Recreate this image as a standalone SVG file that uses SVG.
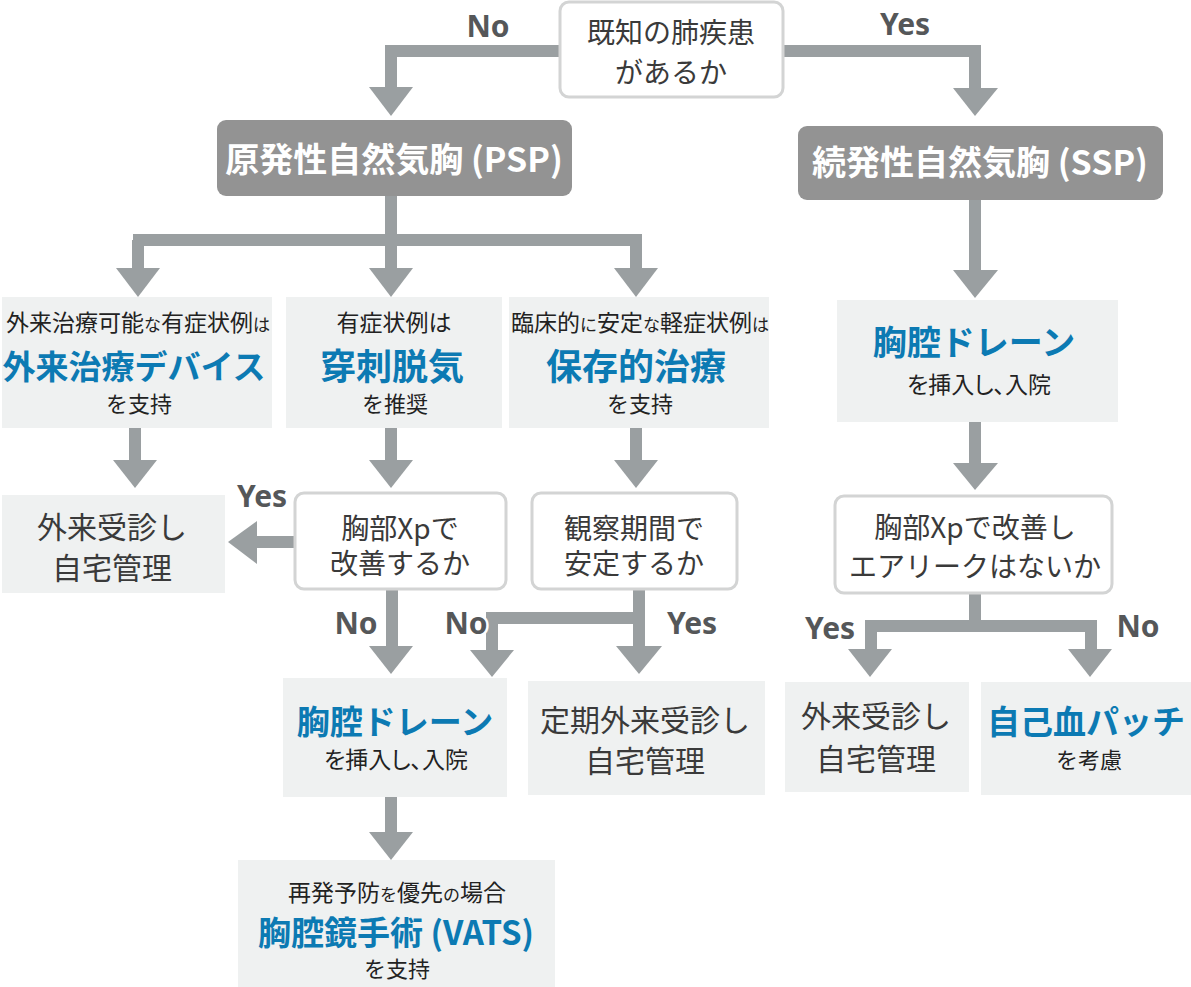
<svg xmlns="http://www.w3.org/2000/svg" width="1191" height="987" viewBox="0 0 1191 987">
<style>
.bg{fill:#ffffff}
.box{fill:#eff1f1}
.dec{fill:#ffffff;stroke:#d3d4d4;stroke-width:3}
.main{fill:#939393}
.ln{fill:none;stroke:#9a9fa1;stroke-width:12;stroke-linejoin:miter;stroke-linecap:butt}
.ah{fill:#9a9fa1}
text{font-family:"Noto Sans CJK JP","Noto Sans",sans-serif;text-anchor:middle}
.mt{fill:#ffffff;font-size:34px;font-weight:700}
.sm{fill:#222;font-size:23px}
.s2{fill:#222;font-size:22px}
.s3{fill:#222;font-size:23px;font-feature-settings:"palt"}
.kn{font-size:17px}
.bl{fill:#0c7ab3;font-size:33px;font-weight:700}
.bx{font-size:36px}
.dt{fill:#3a3a3a;font-size:28px}
.rt{fill:#3a3a3a;font-size:30px}
.lb{fill:#555759;font-size:30px;font-weight:700;font-family:"Noto Sans","Noto Sans CJK JP",sans-serif}
.halo{stroke:#ffffff;stroke-width:5;paint-order:stroke;stroke-linejoin:round}
</style>
<rect class="bg" x="0" y="0" width="1191" height="987"/>

<g id="connectors">
  <path class="ln" d="M560 51 H391 V90"/>
  <polygon class="ah" points="369,87 413,87 391,116"/>
  <path class="ln" d="M783 51 H975 V90"/>
  <polygon class="ah" points="953,88 998,88 975,116"/>
  <path class="ln" d="M391 196 V270 M133 240 H642 M138 240 V270 M636 240 V270"/>
  <polygon class="ah" points="116,268 160,268 138,297"/>
  <polygon class="ah" points="369,268 413,268 391,297"/>
  <polygon class="ah" points="614,268 658,268 636,297"/>
  <path class="ln" d="M975 200 V272"/>
  <polygon class="ah" points="953,270 998,270 975,298"/>
  <path class="ln" d="M135 428 V462"/>
  <polygon class="ah" points="113,460 157,460 135,488"/>
  <path class="ln" d="M391 428 V462"/>
  <polygon class="ah" points="369,460 413,460 391,488"/>
  <path class="ln" d="M636 428 V462"/>
  <polygon class="ah" points="614,460 658,460 636,488"/>
  <path class="ln" d="M295 542 H255"/>
  <polygon class="ah" points="257,521 257,564 228,542"/>
  <path class="ln" d="M392 589 V648"/>
  <polygon class="ah" points="369,646 413,646 391,674"/>
  <path class="ln" d="M639 589 V648 M645 618 H492 V652"/>
  <polygon class="ah" points="616,646 662,646 639,674"/>
  <polygon class="ah" points="470,650 514,650 492,677"/>
  <path class="ln" d="M975 422 V465"/>
  <polygon class="ah" points="953,463 998,463 975,490"/>
  <path class="ln" d="M975 593 V626 M865 626 H1097 M871 626 V651 M1091 626 V651"/>
  <polygon class="ah" points="848,649 892,649 870,677"/>
  <polygon class="ah" points="1068,649 1112,649 1090,677"/>
  <path class="ln" d="M391 797 V834"/>
  <polygon class="ah" points="369,832 413,832 391,860"/>
  <text class="lb" x="488" y="37">No</text>
  <text class="lb" x="905" y="35">Yes</text>
  <text class="lb" x="262" y="507">Yes</text>
  <text class="lb" x="356" y="634">No</text>
  <text class="lb halo" x="466" y="634">No</text>
  <text class="lb" x="692" y="634">Yes</text>
  <text class="lb" x="830" y="639">Yes</text>
  <text class="lb" x="1138" y="637">No</text>
</g>

<g id="n-known">
  <rect class="dec" x="560" y="2" width="223" height="95" rx="9"/>
  <text class="dt" x="671" y="43">既知の肺疾患</text>
  <text class="dt" x="671" y="83">があるか</text>
</g>
<g id="n-psp">
  <rect class="main" x="217" y="120" width="355" height="76" rx="9"/>
  <text class="mt" x="394" y="172">原発性自然気胸 (PSP)</text>
</g>
<g id="n-ssp">
  <rect class="main" x="798" y="126" width="365" height="74" rx="9"/>
  <text class="mt" x="980" y="175">続発性自然気胸 (SSP)</text>
</g>
<g id="n-device">
  <rect class="box" x="2" y="297" width="270" height="131"/>
  <text class="sm" x="138" y="331">外来治療可能<tspan class="kn">な</tspan>有症状例<tspan class="kn">は</tspan></text>
  <text class="bl" x="134" y="379">外来治療デバイス</text>
  <text class="s2" x="139" y="412">を支持</text>
</g>
<g id="n-aspiration">
  <rect class="box" x="286" y="297" width="216" height="131"/>
  <text class="sm" x="394" y="331">有症状例は</text>
  <text class="bl bx" x="392" y="380">穿刺脱気</text>
  <text class="s2" x="395" y="412">を推奨</text>
</g>
<g id="n-conservative">
  <rect class="box" x="509" y="297" width="260" height="131"/>
  <text class="sm" x="640" y="331">臨床的<tspan class="kn">に</tspan>安定<tspan class="kn">な</tspan>軽症状例<tspan class="kn">は</tspan></text>
  <text class="bl bx" x="636" y="380">保存的治療</text>
  <text class="s2" x="640" y="412">を支持</text>
</g>
<g id="n-home1">
  <rect class="box" x="2" y="495" width="223" height="98"/>
  <text class="rt" x="112" y="538">外来受診し</text>
  <text class="rt" x="112" y="579">自宅管理</text>
</g>
<g id="n-xp1">
  <rect class="dec" x="295" y="493" width="211" height="96" rx="9"/>
  <text class="dt" x="400" y="539">胸部Xpで</text>
  <text class="dt" x="400" y="574">改善するか</text>
</g>
<g id="n-observe">
  <rect class="dec" x="532" y="493" width="205" height="96" rx="9"/>
  <text class="dt" x="634" y="539">観察期間で</text>
  <text class="dt" x="634" y="574">安定するか</text>
</g>
<g id="n-drain1">
  <rect class="box" x="283" y="678" width="224" height="119"/>
  <text class="bl" x="395" y="734">胸腔ドレーン</text>
  <text class="s3" x="396" y="768">を挿入し、入院</text>
</g>
<g id="n-home2">
  <rect class="box" x="528" y="681" width="237" height="114"/>
  <text class="rt" x="645" y="731">定期外来受診し</text>
  <text class="rt" x="645" y="772">自宅管理</text>
</g>
<g id="n-vats">
  <rect class="box" x="238" y="860" width="317" height="127"/>
  <text class="sm" x="397" y="901">再発予防<tspan class="kn">を</tspan>優先<tspan class="kn">の</tspan>場合</text>
  <text class="bl" x="396" y="945">胸腔鏡手術 (VATS)</text>
  <text class="s2" x="397" y="977">を支持</text>
</g>
<g id="n-drain2">
  <rect class="box" x="837" y="300" width="281" height="122"/>
  <text class="bl" x="974" y="355" style="font-size:34px">胸腔ドレーン</text>
  <text class="s3" x="979" y="393">を挿入し、入院</text>
</g>
<g id="n-xp2">
  <rect class="dec" x="835" y="496" width="277" height="97" rx="9"/>
  <text class="dt" x="975" y="538">胸部Xpで改善し</text>
  <text class="dt" x="975" y="577">エアリークはないか</text>
</g>
<g id="n-home3">
  <rect class="box" x="785" y="682" width="184" height="110"/>
  <text class="rt" x="876" y="727">外来受診し</text>
  <text class="rt" x="876" y="770">自宅管理</text>
</g>
<g id="n-patch">
  <rect class="box" x="981" y="682" width="210" height="113"/>
  <text class="bl" x="1086" y="734">自己血パッチ</text>
  <text class="s2" x="1089" y="768">を考慮</text>
</g>
</svg>
